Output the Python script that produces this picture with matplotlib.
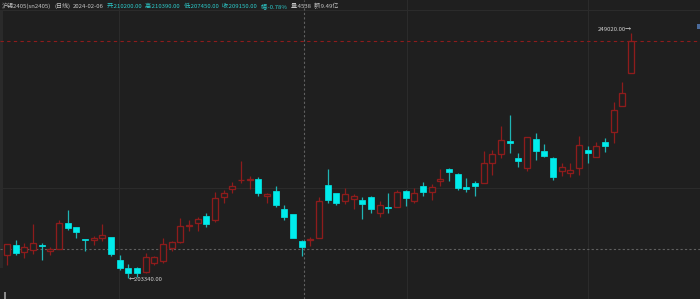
import matplotlib
matplotlib.use("Agg")
import matplotlib.pyplot as plt
from matplotlib.patches import Rectangle
import numpy as np

plt.rcParams['font.family'] = ['Noto Sans CJK SC', 'DejaVu Sans']

# ---------------- data (daily K-line, 沪锡2405) ----------------
opens = [207630, 209500, 208130, 208560, 209440, 208380, 208690, 213550, 212800, 210620,
         210430, 210800, 210950, 206700, 205150, 205150, 204400, 206080, 206510, 208990,
         210000, 213040, 213660, 214970, 214160, 218400, 220010, 221580, 221580, 221760,
         218590, 219520, 216270, 215280, 210200, 210450, 210860, 220700, 219150, 217710,
         218030, 217840, 218510, 215530, 216650, 216530, 219580, 217770, 220510, 219480,
         221500, 223740, 222710, 220270, 221030, 221130, 224860, 226430, 228910, 225780,
         223820, 229290, 226990, 225680, 223370, 222990, 223930, 227290, 225870, 228670,
         230540, 235500, 241660]
closes = [209630, 207950, 209070, 209810, 209310, 208690, 213550, 212730, 211980, 210500,
          210750, 211310, 207760, 205150, 204210, 204320, 207310, 207200, 209630, 210000,
          212990, 213170, 214290, 213420, 218180, 219150, 220510, 221690, 221760, 219260,
          218960, 216960, 214720, 210750, 209150, 210560, 217770, 217900, 217390, 218960,
          218590, 217210, 216270, 217020, 216460, 219340, 218270, 219260, 219390, 220270,
          221910, 223090, 220080, 220010, 220420, 224750, 226450, 229060, 228540, 225140,
          229600, 227050, 226110, 222140, 224000, 223440, 228110, 226620, 227920, 227980,
          234700, 237870, 247530]
highs = [209630, 210430, 209810, 213420, 209810, 209070, 214160, 216090, 212800, 210620,
         211180, 213420, 210990, 207630, 205950, 205440, 207950, 207500, 210750, 210300,
         214590, 214160, 214780, 215530, 219340, 219760, 221310, 225180, 222430, 222140,
         219260, 220510, 216960, 215280, 210390, 210990, 218400, 223690, 219210, 220080,
         219020, 218400, 218640, 217650, 219260, 219760, 219760, 220080, 221260, 220880,
         223690, 223870, 222850, 222060, 221440, 227050, 227230, 231710, 233770, 226620,
         229600, 230350, 228350, 225980, 224750, 224750, 229850, 227980, 228780, 229420,
         236190, 239980, 249020]
lows = [205760, 207630, 207010, 207760, 206700, 207630, 208690, 212350, 210750, 208430,
        209500, 210300, 207500, 204740, 203340, 203580, 204210, 205760, 206190, 208430,
        209930, 212110, 212110, 212910, 213850, 217280, 219150, 221020, 219900, 218640,
        217280, 216650, 214160, 210750, 207450, 209350, 210860, 217280, 216910, 217150,
        216220, 214350, 215530, 214670, 215530, 216530, 216780, 217390, 218590, 217950,
        220510, 221440, 219760, 219450, 218640, 221020, 222620, 225680, 226730, 224120,
        223370, 225370, 225870, 221630, 222380, 222250, 222560, 224750, 225870, 226800,
        228480, 235500, 241660]

header_parts = ["沪锡2405(sn2405)", "(日线)", "2024-02-06",
                "开:210200.00", "高:210390.00", "低:207450.00", "收:209150.00",
                "幅:-0.78%", "量:4538", "额:9.49亿"]
high_label = "249020.00\u2192"
low_label = "\u2190203340.00"
crosshair_idx = 34.3
crosshair_price = 208750
grid_x = [12.9, 46.1, 67.0]
grid_y = [220140, 253370]

# ---------------- style ----------------
BG = '#1f1f1f'
RED = '#8e1c1c'
CYAN = '#00ecec'
CYAN_WICK = '#1fb4b4'
W, H = 700, 299

fig = plt.figure(figsize=(7, 2.99), dpi=100)
fig.patch.set_facecolor(BG)
ax = fig.add_axes([0, 0, 1, 1])
ax.set_facecolor(BG)
for s in ax.spines.values():
    s.set_visible(False)
ax.set_xticks([])
ax.set_yticks([])

x0_px, step_px = 7.0, 8.667
ax.set_xlim(-x0_px / step_px, (W - x0_px) / step_px)
ax.set_ylim(199414, 255237)

o = np.array(opens, float)
c = np.array(closes, float)
h = np.array(highs, float)
l = np.array(lows, float)
x = np.arange(len(o))
up = c >= o
top = np.maximum(o, c)
bot = np.minimum(o, c)

# faint grid
for gx in grid_x:
    ax.axvline(gx, color='#2b2b2b', lw=0.8, zorder=0)
for gy in grid_y:
    ax.axhline(gy, color='#2b2b2b', lw=0.8, zorder=0)

# crosshair
ax.axvline(crosshair_idx, color='#606060', lw=0.8, ls=(0, (2, 2)), zorder=1)
ax.axhline(crosshair_price, color='#606060', lw=0.8, ls=(0, (2, 2)), zorder=1)
# last price line
ax.axhline(closes[-1], color='#8e1c1c', lw=0.8, ls=(0, (3, 3)), zorder=1)

# wicks
wick_cols = [RED if u else CYAN_WICK for u in up]
ax.vlines(x, top, h, colors=wick_cols, lw=0.9, zorder=2)
ax.vlines(x, l, bot, colors=wick_cols, lw=0.9, zorder=2)

# bodies
bw = 0.68
ax.bar(x[up], (c - o)[up], bottom=o[up], width=bw, facecolor=BG,
       edgecolor=RED, linewidth=0.95, zorder=3)
ax.bar(x[~up], (o - c)[~up], bottom=c[~up], width=bw, facecolor=CYAN,
       edgecolor=CYAN, linewidth=0.5, zorder=3)

# high / low labels
imax = int(np.argmax(h))
imin = int(np.argmin(l))
ax.annotate(high_label, xy=(imax, h[imax]), xytext=(0.6, 2.4), textcoords='offset points',
            ha='right', va='center', fontsize=4.3, color='#cfcfcf', zorder=5)
ax.annotate(low_label, xy=(imin, l[imin]), xytext=(0.6, -1.4), textcoords='offset points',
            ha='left', va='center', fontsize=4.3, color='#cfcfcf', zorder=5)

# decorations
ax.add_patch(Rectangle((0, 1 - 268 / H), 3 / W, (268 - 10) / H, transform=ax.transAxes,
                       facecolor='#2a2a2a', edgecolor='none', zorder=0))
ax.add_patch(Rectangle((4 / W, 0), 2 / W, 7 / H, transform=ax.transAxes,
                       facecolor='#8a8a8a', edgecolor='none', zorder=4))
ax.add_patch(Rectangle((697 / W, 1 - 29 / H), 3 / W, 5 / H, transform=ax.transAxes,
                       facecolor='#4a6a9a', edgecolor='none', zorder=4))

# header
GRAY = '#c4c4c4'
TEAL = '#2ccaca'
colors = [GRAY, GRAY, GRAY, TEAL, TEAL, TEAL, TEAL, TEAL, GRAY, GRAY]
renderer = fig.canvas.get_renderer()
xp = 2.0
for s, col in zip(header_parts, colors):
    t = fig.text(xp / W, 1 - 6.0 / H, s, color=col, fontsize=4.35, ha='left', va='center')
    bb = t.get_window_extent(renderer)
    xp = bb.x1 + 2.8

fig.savefig('out.png', dpi=100, facecolor=BG)
